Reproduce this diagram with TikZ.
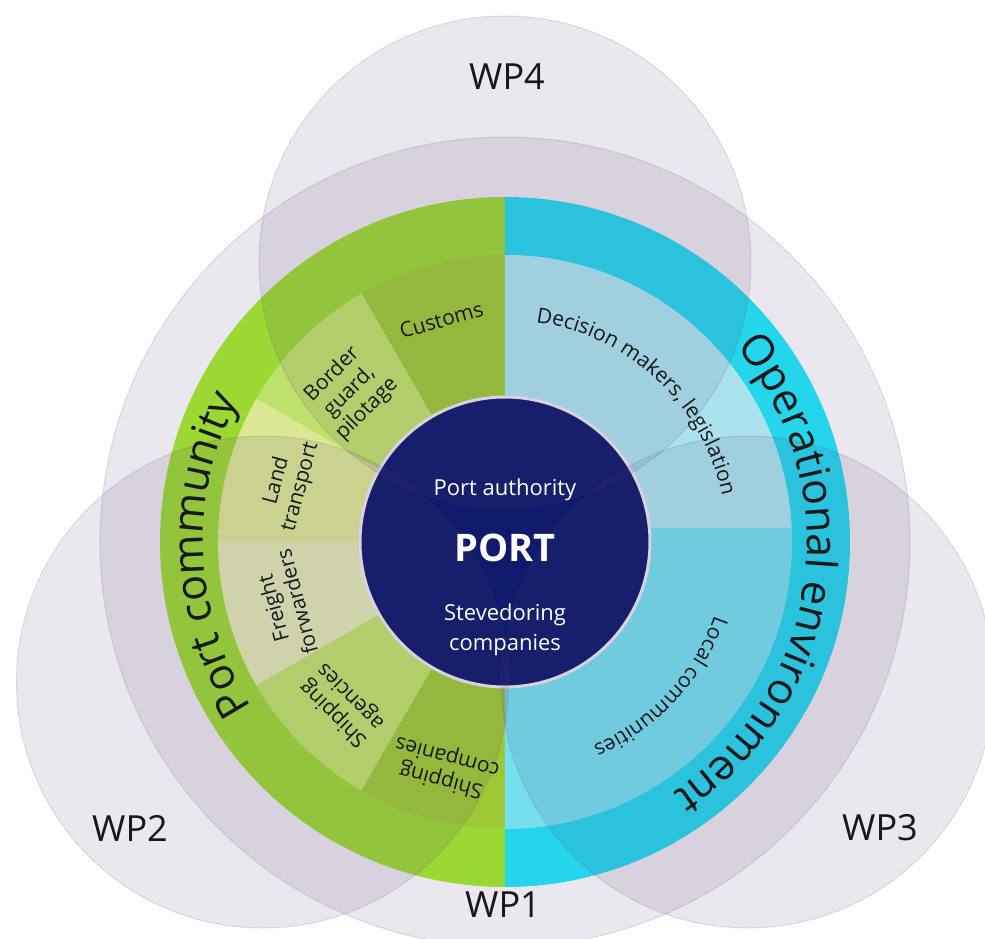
\documentclass[tikz,border=0pt]{standalone}
\usepackage{fontspec}
\setmainfont{Open Sans}
\usetikzlibrary{decorations.text}

\definecolor{bandgreen}{RGB}{165,238,42}
\definecolor{bandcyan}{RGB}{30,234,252}
\definecolor{segdark}{RGB}{167,220,45}
\definecolor{segmid}{RGB}{205,248,105}
\definecolor{segland}{RGB}{238,255,150}
\definecolor{segfreight}{RGB}{245,255,188}
\definecolor{segdecision}{RGB}{182,250,255}
\definecolor{seglocal}{RGB}{122,246,255}
\definecolor{portblue}{RGB}{6,22,104}
\definecolor{wpshade}{RGB}{88,63,122}
\definecolor{labelink}{RGB}{22,24,26}

\newcommand\bandfont{\fontsize{43}{50}\selectfont\color{labelink}}
\newcommand\segfont{\fontsize{21}{24}\selectfont\color{labelink}}

\begin{document}
\begin{tikzpicture}[x=1pt,y=1pt,
  wp/.style={fill=wpshade, fill opacity=0.12, draw=wpshade, draw opacity=0.15, line width=1pt},
  seglabel/.style={text=labelink, font=\fontsize{21}{24.5}\selectfont, align=center, inner sep=0pt},
  wplabel/.style={text=labelink, font=\fontsize{36}{40}\selectfont, inner sep=0pt},
  coretext/.style={text=white, font=\fontsize{22}{30}\selectfont, align=center, inner sep=0pt}]

\useasboundingbox (-505,-396) rectangle (480,542);
\clip (-505,-396) rectangle (480,542);
\fill[white] (-505,-396) rectangle (480,542);

% outer band: port community (left) and operational environment (right)
\fill[bandgreen] (0,0) -- (90:345) arc[start angle=90,end angle=270,radius=345] -- cycle;
\fill[bandcyan] (0,0) -- (-90:345) arc[start angle=-90,end angle=90,radius=345] -- cycle;

% inner sectors of the port community
\fill[segdark]    (0,0) -- (90:287)  arc[start angle=90, end angle=120,radius=287] -- cycle;
\fill[segmid]     (0,0) -- (120:287) arc[start angle=120,end angle=150,radius=287] -- cycle;
\fill[segland]    (0,0) -- (150:287) arc[start angle=150,end angle=180,radius=287] -- cycle;
\fill[segfreight] (0,0) -- (180:287) arc[start angle=180,end angle=210,radius=287] -- cycle;
\fill[segmid]     (0,0) -- (210:287) arc[start angle=210,end angle=240,radius=287] -- cycle;
\fill[segdark]    (0,0) -- (240:287) arc[start angle=240,end angle=270,radius=287] -- cycle;

% inner sectors of the operational environment
\fill[seglocal] (0,0) -- (-90:287) arc[start angle=-90,end angle=90,radius=287] -- cycle;
\fill[segdecision] (0,14) -- (2.8:287) arc[start angle=2.8,end angle=90,radius=287] -- cycle;

% port core
\fill[portblue] (0,0) circle[radius=145];
\draw[white, line width=3pt] (0,0) circle[radius=145];

% work package circles
\path[wp] (0,0) circle[radius=405];
\path[wp] (0,280) circle[radius=246];
\path[wp] (-242.5,-140) circle[radius=246];
\path[wp] (242.5,-140) circle[radius=246];

% band titles along the ring
\path[decorate, decoration={text along path, text align=center,
  text={|\bandfont|Port community}}]
  (230:302) arc[start angle=230, end angle=135, radius=302];
\path[decorate, decoration={text along path, text align=center,
  text={|\bandfont|Operational environment}}]
  (60:302) arc[start angle=60, end angle=-76, radius=302];

% curved sector labels on the right
\path[decorate, decoration={text along path, text align=center,
  text={|\segfont|Decision makers, legislation}}]
  (92:222) arc[start angle=92, end angle=2, radius=222];
\path[decorate, decoration={text along path, text align=center,
  text={|\segfont|Local communities}}]
  (-1:222) arc[start angle=-1, end angle=-85, radius=222];

% straight sector labels on the left
\node[seglabel, rotate=16]  (customs)  at (106:231) {Customs};
\node[seglabel, rotate=45]  (border)   at (136:216) {Border\\guard,\\pilotage};
\node[seglabel, rotate=75]  (land)     at (165:224) {Land\\transport};
\node[seglabel, rotate=105] (freight)  at (196:229) {Freight\\forwarders};
\node[seglabel, rotate=135] (agencies) at (225:230) {Shipping\\agencies};
\node[seglabel, rotate=165] (shipcos)  at (255:234) {Shipping\\companies};

% core labels
\node[coretext] (authority) at (0,52) {Port authority};
\node[coretext, font=\fontsize{38}{42}\selectfont\bfseries] (port) at (0,-6) {PORT};
\node[coretext] (stevedoring) at (0,-88) {Stevedoring\\companies};

% work package labels
\node[wplabel] (wp4) at (2,465) {WP4};
\node[wplabel] (wp2) at (-375,-286) {WP2};
\node[wplabel] (wp3) at (375,-286) {WP3};
\node[wplabel] (wp1) at (-2,-363) {WP1};
\end{tikzpicture}
\end{document}
